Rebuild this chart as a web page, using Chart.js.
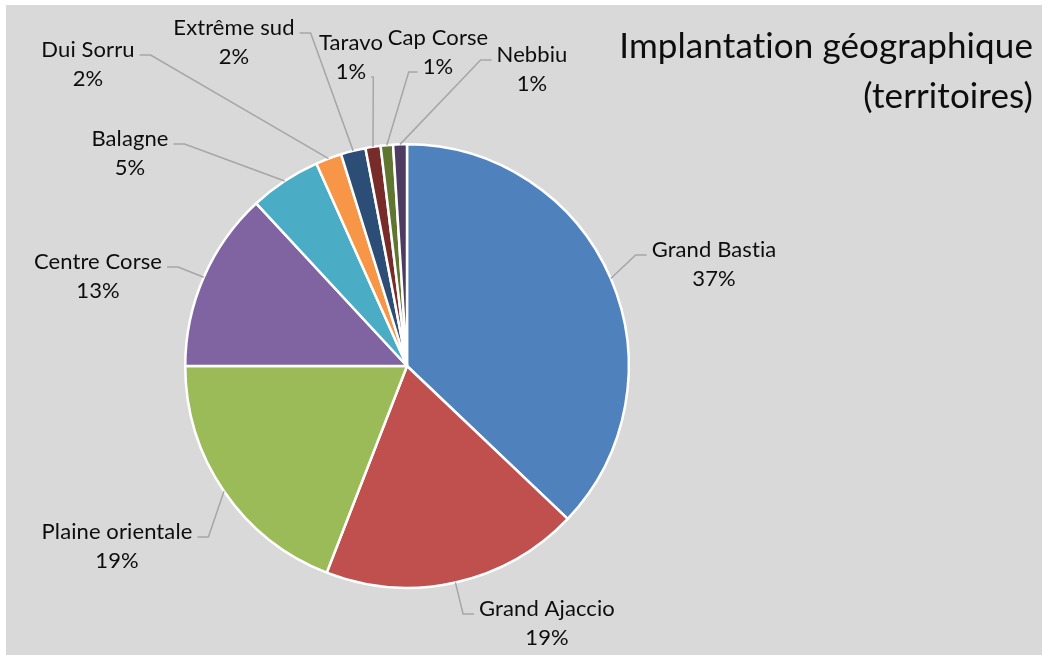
<!DOCTYPE html>
<html>
<head>
<meta charset="utf-8">
<script src="https://cdn.jsdelivr.net/npm/chart.js@4.4.0/dist/chart.umd.min.js"></script>
<style>
    body { margin: 0; background: #ffffff; }
    #cadre { position: absolute; left: 6px; top: 5px; width: 1036px; height: 650px; background: #d9d9d9; }
</style>
</head>
<body>
<div id="cadre"><canvas id="graficoPastel" width="1036" height="650"></canvas></div>
<script>
const territoires = ["Grand Bastia", "Grand Ajaccio", "Plaine orientale", "Centre Corse", "Balagne",
    "Dui Sorru", "Extrême sud", "Taravo", "Cap Corse", "Nebbiu"];
const implantation = [37.1, 18.8, 19.1, 13.1, 5.2, 1.9, 1.8, 1.1, 0.9, 1.0];
const couleurs = ["#4f81bd", "#c0504d", "#9bbb59", "#8064a2", "#4bacc6",
    "#f79646", "#2c4d75", "#772c2a", "#5f7530", "#4d3b62"];
const titreLignes = ["Implantation géographique", "(territoires)"];

// où poser chaque étiquette, par rapport au centre du camembert
const placementEtiquettes = [
    { dx: 307, dy: -116, cote: "gauche", ligne: 0, coude: 11 },
    { dx: 140, dy: 243, cote: "gauche", ligne: 0, coude: 11 },
    { dx: -290, dy: 166, cote: "droite", ligne: 0, coude: 11 },
    { dx: -309, dy: -104, cote: "droite", ligne: 0, coude: 11 },
    { dx: -277, dy: -227, cote: "droite", ligne: 0, coude: 11 },
    { dx: -319, dy: -316, cote: "droite", ligne: 0, coude: 11 },
    { dx: -173, dy: -338, cote: "droite", ligne: 0, coude: 11 },
    { dx: -56, dy: -323, cote: "droite", ligne: 1, coude: 2 },
    { dx: 31, dy: -328, cote: "gauche", ligne: 1, coude: 9 },
    { dx: 125, dy: -311, cote: "gauche", ligne: 0, coude: 11 }
];

const policeEtiquette = "22px Lato";
const policeTitre = "35px Lato";
const interligne = 29;

const etiquettesPlugin = {
    id: "etiquettes",
    afterDatasetsDraw(chart) {
        const ctx = chart.ctx;
        const arcs = chart.getDatasetMeta(0).data;
        const total = implantation.reduce((a, b) => a + b, 0);

        ctx.save();
        ctx.font = policeEtiquette;
        ctx.letterSpacing = "0.1px"; // évite la ligature "ti" de Lato
        ctx.textAlign = "center";
        ctx.textBaseline = "middle";

        arcs.forEach((arc, i) => {
            const p = placementEtiquettes[i];
            const { x, y, startAngle, endAngle, outerRadius } = arc.getProps(["x", "y", "startAngle", "endAngle", "outerRadius"], true);
            const milieu = (startAngle + endAngle) / 2;
            const x0 = x + Math.cos(milieu) * outerRadius;
            const y0 = y + Math.sin(milieu) * outerRadius;

            const cx = x + p.dx;
            const cy = y + p.dy;
            const pct = Math.round(implantation[i] / total * 100) + "%";
            const texte = p.ligne === 0 ? territoires[i] : pct;
            const largeur = ctx.measureText(texte).width;
            const ly = cy + p.ligne * interligne + 5;
            const sens = p.cote === "gauche" ? -1 : 1;
            const xFin = cx + sens * (largeur / 2 + 5);
            const xCoude = xFin + sens * p.coude;

            ctx.strokeStyle = "#a6a6a6";
            ctx.lineWidth = 1.5;
            ctx.beginPath();
            ctx.moveTo(x0, y0);
            ctx.lineTo(xCoude, ly);
            ctx.lineTo(xFin, ly);
            ctx.stroke();

            ctx.fillStyle = "#0d0d0d";
            ctx.fillText(territoires[i], cx, cy);
            ctx.fillText(pct, cx, cy + interligne);
        });

        // titre en haut à droite
        ctx.font = policeTitre;
        ctx.textAlign = "right";
        ctx.textBaseline = "alphabetic";
        ctx.fillStyle = "#0d0d0d";
        ctx.fillText(titreLignes[0], chart.width - 9, 53);
        ctx.fillText(titreLignes[1], chart.width - 9, 103);
        ctx.restore();
    }
};

const ctxPastel = document.getElementById("graficoPastel").getContext("2d");
const graficoPastel = new Chart(ctxPastel, {
    type: "pie",
    data: {
        labels: territoires,
        datasets: [{
            data: implantation,
            backgroundColor: couleurs,
            borderColor: "#ffffff",
            borderWidth: 2.5
        }]
    },
    options: {
        responsive: false,
        animation: false,
        layout: { padding: { top: 138, bottom: 66, left: 178, right: 412 } },
        plugins: {
            legend: { display: false },
            tooltip: { enabled: false }
        }
    },
    plugins: [etiquettesPlugin]
});
</script>
</body>
</html>
